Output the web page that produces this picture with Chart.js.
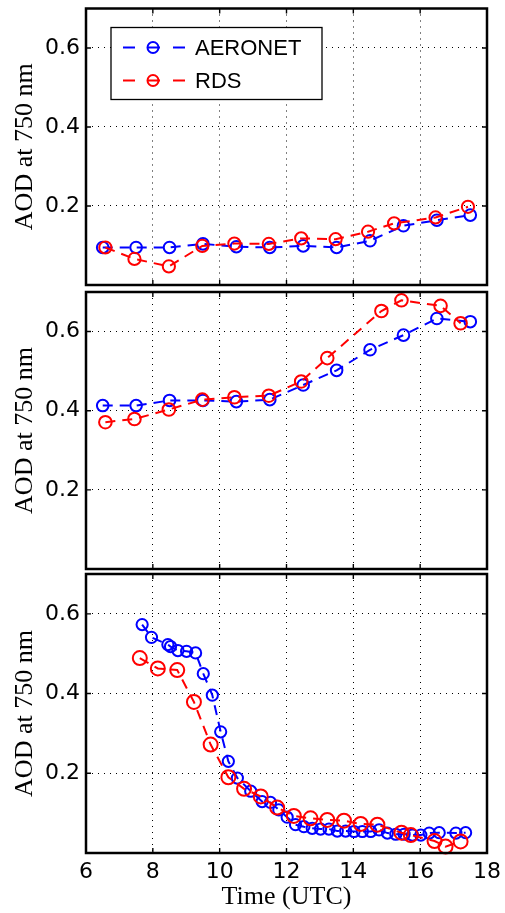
<!DOCTYPE html>
<html><head><meta charset="utf-8">
<script src="https://cdn.jsdelivr.net/npm/chart.js@4.4.0/dist/chart.umd.min.js"></script>
<style>
html,body{margin:0;padding:0;background:#fff;}
#wrap{position:relative;width:505px;height:913px;overflow:hidden;background:#fff}
canvas{position:absolute;left:0;top:0}
</style></head><body>
<div id="wrap">
<canvas id="c1" width="505" height="913"></canvas>
<canvas id="c2" width="505" height="913"></canvas>
<canvas id="c3" width="505" height="913"></canvas>
</div>
<script>
// ---------- data ----------
const seriesNames = ['AERONET', 'RDS'];
const xTicks = [6, 8, 10, 12, 14, 16, 18];
const yTicks = [0.2, 0.4, 0.6];
const xTitle = 'Time (UTC)';
const yTitle = 'AOD at 750 nm';

// panel 1
const p1AeronetTime = [6.5, 7.5, 8.5, 9.5, 10.5, 11.5, 12.5, 13.5, 14.5, 15.5, 16.5, 17.5];
const p1AeronetAod  = [0.095, 0.095, 0.095, 0.104, 0.097, 0.095, 0.099, 0.095, 0.112, 0.150, 0.164, 0.177];
const p1RdsTime     = [6.58, 7.45, 8.48, 9.48, 10.44, 11.47, 12.44, 13.47, 14.44, 15.22, 16.46, 17.43];
const p1RdsAod      = [0.095, 0.066, 0.047, 0.099, 0.105, 0.104, 0.118, 0.116, 0.135, 0.156, 0.171, 0.198];

// panel 2
const p2AeronetTime = [6.5, 7.5, 8.5, 9.5, 10.5, 11.5, 12.5, 13.5, 14.5, 15.5, 16.5, 17.5];
const p2AeronetAod  = [0.413, 0.413, 0.426, 0.426, 0.423, 0.428, 0.465, 0.502, 0.554, 0.591, 0.633, 0.625];
const p2RdsTime     = [6.58, 7.45, 8.48, 9.48, 10.44, 11.47, 12.44, 13.22, 14.84, 15.44, 16.61, 17.21];
const p2RdsAod      = [0.371, 0.379, 0.403, 0.428, 0.434, 0.438, 0.474, 0.533, 0.652, 0.679, 0.665, 0.621];

// panel 3
const p3AeronetTime = [7.68, 7.96, 8.45, 8.53, 8.75, 9.01, 9.28, 9.51, 9.78, 10.03, 10.26, 10.53, 10.93, 11.27, 11.52, 11.77, 12.02, 12.27, 12.52, 12.77, 13.02, 13.27, 13.52, 13.77, 14.02, 14.27, 14.52, 14.77, 15.02, 15.27, 15.52, 15.77, 16.02, 16.27, 16.57, 17.07, 17.36];
const p3AeronetAod  = [0.573, 0.541, 0.523, 0.518, 0.508, 0.506, 0.502, 0.450, 0.396, 0.304, 0.230, 0.188, 0.155, 0.129, 0.127, 0.108, 0.090, 0.071, 0.066, 0.062, 0.060, 0.060, 0.055, 0.055, 0.054, 0.054, 0.054, 0.058, 0.050, 0.047, 0.047, 0.045, 0.045, 0.050, 0.051, 0.050, 0.051];
const p3RdsTime     = [7.61, 8.15, 8.73, 9.23, 9.73, 10.26, 10.73, 11.23, 11.72, 12.22, 12.72, 13.22, 13.72, 14.22, 14.72, 15.44, 15.72, 16.43, 16.76, 17.21];
const p3RdsAod      = [0.489, 0.463, 0.459, 0.379, 0.272, 0.190, 0.161, 0.142, 0.114, 0.093, 0.087, 0.083, 0.081, 0.073, 0.071, 0.051, 0.045, 0.030, 0.016, 0.029];

// ---------- helpers ----------
const pts = (xs, ys) => xs.map((x, i) => ({x: x, y: ys[i]}));

Chart.defaults.color = '#000';
Chart.defaults.font.family = '"DejaVu Sans", sans-serif';

const framePlugin = {
  id: 'frame',
  afterDraw(chart) {
    const {ctx, chartArea: a, scales: {x, y}} = chart;
    ctx.save();
    ctx.strokeStyle = '#000';
    ctx.lineWidth = 1.4;
    ctx.beginPath();
    xTicks.forEach(v => {
      const px = x.getPixelForValue(v);
      ctx.moveTo(px, a.bottom); ctx.lineTo(px, a.bottom - 5);
      ctx.moveTo(px, a.top); ctx.lineTo(px, a.top + 5);
    });
    yTicks.forEach(v => {
      const py = y.getPixelForValue(v);
      ctx.moveTo(a.left, py); ctx.lineTo(a.left + 5, py);
      ctx.moveTo(a.right, py); ctx.lineTo(a.right - 5, py);
    });
    ctx.stroke();
    ctx.lineWidth = 2.5;
    ctx.strokeRect(a.left, a.top, a.right - a.left, a.bottom - a.top);
    ctx.restore();
  }
};

const boxLegend = {
  id: 'boxLegend',
  afterDraw(chart, args, opts) {
    if (!opts.show) return;
    const {ctx, chartArea: a} = chart;
    const x0 = a.left + 25, y0 = a.top + 19, w = 211, h = 72;
    ctx.save();
    ctx.fillStyle = '#fff';
    ctx.fillRect(x0, y0, w, h);
    ctx.strokeStyle = '#000';
    ctx.lineWidth = 1.3;
    ctx.strokeRect(x0, y0, w, h);
    chart.data.datasets.forEach((ds, i) => {
      const cy = y0 + 20 + i * 33;
      ctx.strokeStyle = ds.borderColor;
      ctx.lineWidth = 2;
      ctx.setLineDash([12, 13]);
      ctx.beginPath(); ctx.moveTo(x0 + 12, cy); ctx.lineTo(x0 + 74, cy); ctx.stroke();
      ctx.setLineDash([]);
      ctx.beginPath(); ctx.arc(x0 + 42, cy, 5.5, 0, Math.PI * 2); ctx.stroke();
      ctx.fillStyle = '#000';
      ctx.font = '22px "Liberation Sans", Arial, sans-serif';
      ctx.textBaseline = 'middle';
      ctx.textAlign = 'left';
      ctx.fillText(ds.label, x0 + 84, cy + 1);
    });
    ctx.restore();
  }
};

function zeroPad(s) {
  s.paddingTop = 0; s.paddingBottom = 0; s.paddingLeft = 0; s.paddingRight = 0;
}

function makeChart(id, aeroPts, rdsPts, cfg) {
  const ctx = document.getElementById(id);
  return new Chart(ctx, {
    type: 'line',
    data: {
      datasets: [
        {
          label: seriesNames[0], data: aeroPts, order: 1,
          borderColor: '#0000ff', backgroundColor: 'rgba(0,0,0,0)',
          borderWidth: 2, borderDash: [10, 7],
          pointStyle: 'circle', pointRadius: cfg.rA, pointBorderWidth: 2,
          pointBorderColor: '#0000ff', pointBackgroundColor: 'rgba(0,0,0,0)',
          tension: 0, fill: false, clip: false
        },
        {
          label: seriesNames[1], data: rdsPts, order: 0,
          borderColor: '#ff0000', backgroundColor: 'rgba(0,0,0,0)',
          borderWidth: 2, borderDash: [10, 7],
          pointStyle: 'circle', pointRadius: cfg.rR, pointBorderWidth: 2,
          pointBorderColor: '#ff0000', pointBackgroundColor: 'rgba(0,0,0,0)',
          tension: 0, fill: false, clip: false
        }
      ]
    },
    options: {
      responsive: false,
      animation: false,
      events: [],
      devicePixelRatio: 1,
      layout: {padding: {top: cfg.top, bottom: cfg.bottom, left: 0, right: 18}},
      plugins: {
        legend: {display: false},
        tooltip: {enabled: false},
        boxLegend: {show: !!cfg.legend}
      },
      scales: {
        x: {
          type: 'linear', min: 6, max: 18,
          afterBuildTicks: s => { s.ticks = xTicks.map(v => ({value: v})); },
          afterFit: s => { s.height = cfg.xHeight; zeroPad(s); },
          grid: {color: '#000', lineWidth: 1, drawTicks: false},
          border: {display: false, dash: [1, 5]},
          ticks: {
            display: !!cfg.showX, padding: 6,
            font: {family: '"DejaVu Sans", sans-serif', size: 22, lineHeight: 1.2},
            callback: v => String(v), maxRotation: 0, autoSkip: false
          },
          title: {
            display: !!cfg.showX, text: xTitle, padding: {top: 0, bottom: 0},
            font: {family: '"Liberation Serif", "Times New Roman", serif', size: 26, lineHeight: 1.2}
          }
        },
        y: {
          type: 'linear', min: 0, max: 0.7,
          afterBuildTicks: s => { s.ticks = yTicks.map(v => ({value: v})); },
          afterFit: s => { s.width = 86; zeroPad(s); },
          grid: {color: '#000', lineWidth: 1, drawTicks: false},
          border: {display: false, dash: [1, 5]},
          ticks: {
            padding: 6,
            font: {family: '"DejaVu Sans", sans-serif', size: 22, lineHeight: 1.2},
            callback: v => Number(v).toFixed(1)
          },
          title: {
            display: true, text: yTitle, padding: {top: 10, bottom: 0},
            font: {family: '"Liberation Serif", "Times New Roman", serif', size: 26, lineHeight: 1.2}
          }
        }
      }
    },
    plugins: [framePlugin, boxLegend]
  });
}

makeChart('c1', pts(p1AeronetTime, p1AeronetAod), pts(p1RdsTime, p1RdsAod),
  {top: 8.5, bottom: 913 - 285, xHeight: 0, rA: 5.8, rR: 6.1, legend: true});
makeChart('c2', pts(p2AeronetTime, p2AeronetAod), pts(p2RdsTime, p2RdsAod),
  {top: 292, bottom: 913 - 569, xHeight: 0, rA: 5.8, rR: 6.3});
makeChart('c3', pts(p3AeronetTime, p3AeronetAod), pts(p3RdsTime, p3RdsAod),
  {top: 574, bottom: 0, xHeight: 913 - 853, rA: 5.6, rR: 7, showX: true});
</script>
</body></html>
